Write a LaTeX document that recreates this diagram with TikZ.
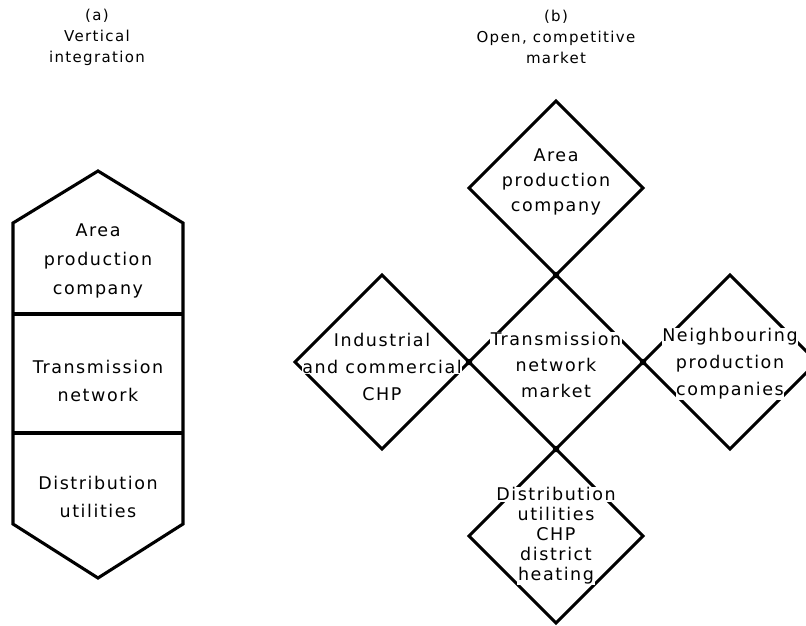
\documentclass[tikz,border=0pt]{standalone}
\usepackage{fontspec}
\setmainfont{DejaVu Sans}[LetterSpace=9]
\usetikzlibrary{positioning,shapes.geometric}
\newcommand\wline[1]{{\setlength\fboxsep{0.6pt}\colorbox{white}{#1}}}
\tikzset{
  outline/.style={line width=3.1pt,line join=miter},
  stall/.style={diamond,draw,line width=3.1pt,minimum width=174pt,
    minimum height=174pt,inner sep=0pt,outer sep=0pt},
  caption/.style={align=center,font=\fontsize{15}{21}\selectfont,inner sep=0pt},
  txt/.style={align=center,font=\fontsize{17.5}{26}\selectfont,inner sep=0pt},
  joint/.style={circle,fill,inner sep=0pt,minimum size=6.5pt}
}

\begin{document}
\begin{tikzpicture}[x=1pt,y=-1pt]
  \useasboundingbox (0,0) rectangle (806,626);
  % titles
  \node[caption] (capa) at (97,37) {(a)\\Vertical\\integration};
  \node[caption] (capb) at (556,37) {(b)\\Open, competitive\\market};
  % (a) vertical chain
  \coordinate (apex) at (98,171);
  \coordinate (tr) at (183,223);
  \coordinate (br) at (183,524);
  \coordinate (foot) at (98,578);
  \coordinate (bl) at (13,524);
  \coordinate (tl) at (13,223);
  \coordinate (d1l) at (13,314);
  \coordinate (d1r) at (183,314);
  \coordinate (d2l) at (13,433);
  \coordinate (d2r) at (183,433);
  \draw[outline] (apex) -- (tr) -- (br) -- (foot) -- (bl) -- (tl) -- cycle;
  \draw[outline] (d1l) -- (d1r);
  \draw[outline] (d2l) -- (d2r);
  \node[txt,font=\fontsize{17.5}{29}\selectfont] (apc) at (98,261) {Area\\production\\company};
  \node[txt,font=\fontsize{17.5}{28}\selectfont] (tnet) at (98,381) {Transmission\\network};
  \node[txt,font=\fontsize{17.5}{28}\selectfont] (dutil) at (98,497) {Distribution\\utilities};
  % (b) open market
  \node[stall] (net) at (556,362) {};
  \node[stall,anchor=south] (area) at (net.north) {};
  \node[stall,anchor=north] (dist) at (net.south) {};
  \node[stall,anchor=east] (ind) at (net.west) {};
  \node[stall,anchor=west] (nbr) at (net.east) {};
  \node[joint] (jn) at (net.north) {};
  \node[joint] (js) at (net.south) {};
  \node[joint] (jw) at (net.west) {};
  \node[joint] (je) at (net.east) {};
  \node[txt,font=\fontsize{17.5}{25}\selectfont] (areat) at ([yshift=6pt]area.center)
    {\wline{Area}\\\wline{production}\\\wline{company}};
  \node[txt] (nett) at ([yshift=-3pt]net.center)
    {\wline{Transmission}\\\wline{network}\\\wline{market}};
  \node[txt,font=\fontsize{17.5}{27}\selectfont] (indt) at ([yshift=-5pt]ind.center)
    {\wline{Industrial}\\\wline{and commercial}\\\wline{CHP}};
  \node[txt,font=\fontsize{17.5}{27}\selectfont] (nbrt) at ([yshift=-2pt]nbr.center)
    {\wline{Neighbouring}\\\wline{production}\\\wline{companies}};
  \node[txt,font=\fontsize{17.5}{20}\selectfont] (distt) at (dist.center)
    {\wline{Distribution}\\\wline{utilities}\\\wline{CHP}\\\wline{district}\\\wline{heating}};
\end{tikzpicture}
\end{document}
